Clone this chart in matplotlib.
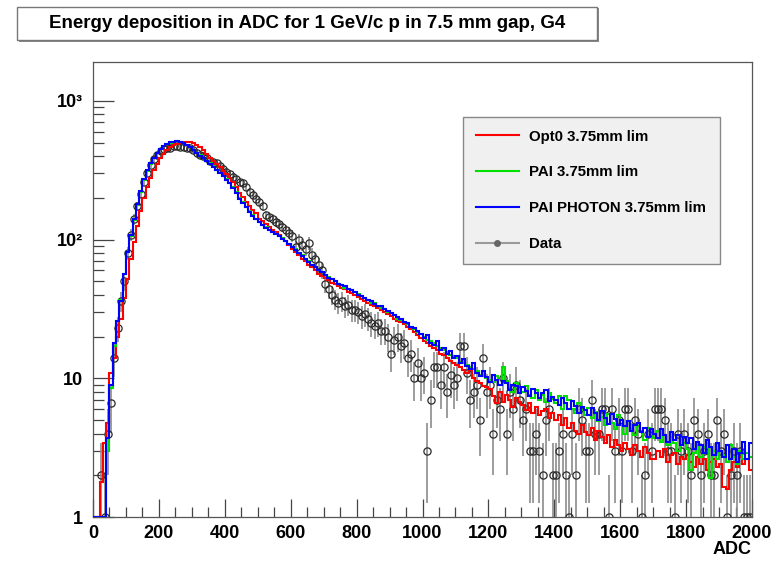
import numpy as np
import matplotlib.pyplot as plt
from matplotlib.patches import Rectangle
from matplotlib.lines import Line2D
from matplotlib.ticker import FixedLocator, FixedFormatter, MultipleLocator, NullFormatter

plt.rcParams['font.family'] = ['Liberation Sans', 'DejaVu Sans']
plt.rcParams['font.weight'] = 'bold'

# 10 ADC bins, 0..2000
edges = np.arange(0, 2001, 10)

opt0 = [0, 0, 1.8, 3.4, 4.8, 11, 14, 20, 27, 38,
        52, 72, 96, 125, 160, 200, 240, 280, 318, 352,
        385, 415, 440, 462, 478, 490, 498, 503, 505, 502,
        495, 480, 462, 440, 418, 390, 368, 350, 332, 315,
        297, 280, 260, 238, 218, 202, 188, 175, 164, 155,
        142, 136, 129, 124, 118, 114, 108, 102, 97, 92,
        86, 81, 77, 73, 70, 66, 63, 60, 57, 55,
        53, 51, 49, 47.5, 46, 45, 44, 42, 41, 40,
        38.5, 37.5, 36, 35, 34, 33, 32, 31, 30, 29,
        28, 27, 26, 25.5, 24.5, 23.5, 22.5, 21.5, 20.5, 19.5,
        18.5, 18, 17, 16.5, 16, 15, 14.8, 14, 13.4, 13,
        12.4, 12, 11.4, 11, 11.5, 10, 9.6, 9.2, 8.8, 8.6,
        8.4, 7.4, 6.6, 8.0, 6.8, 7.6, 7.0, 6.2, 7.2, 6.8,
        6.4, 5.9, 6.6, 5.6, 6.2, 5.4, 5.8, 6.0, 5.2, 5.6,
        5.0, 5.4, 4.6, 5.2, 4.4, 4.8, 4.2, 4.0, 4.6, 4.1,
        3.9, 4.4, 3.6, 4.2, 3.8, 3.4, 3.9, 3.2, 3.6, 3.3,
        3.0, 3.4, 3.1, 2.8, 3.3, 3.0, 2.7, 3.2, 2.9, 2.6,
        2.6, 3.0, 2.7, 3.1, 2.5, 2.8, 2.9, 2.4, 2.7, 2.6,
        2.8, 2.5, 2.3, 2.7, 2.4, 2.6, 2.2, 2.5, 2.6, 2.3,
        2.4, 1.65, 1.6, 2.2, 2.5, 2.3, 2.7, 2.4, 2.6, 2.2]

pai = [0, 0, 0, 0, 3, 8.5, 17, 26, 37, 57,
       82, 107, 139, 178, 222, 270, 315, 352, 390, 420,
       448, 470, 488, 500, 508, 512, 506, 497, 484, 465,
       446, 425, 405, 388, 372, 355, 337, 320, 304, 290,
       273, 258, 238, 219, 201, 186, 172, 161, 151, 142,
       134, 128, 123, 118, 113, 110, 106, 102, 97, 93,
       88, 85, 80, 77, 72, 70, 66, 63, 60, 58,
       56, 54, 52, 50, 48, 47, 45, 44, 43, 42,
       40.5, 39, 38, 36.5, 35, 35, 33.5, 32, 31.5, 30,
       29.5, 28.5, 27, 26.5, 25.5, 24.5, 23.5, 22.5, 21.5, 21,
       19.8, 19, 18.6, 18, 17, 16.6, 16, 15.4, 14.8, 14.5,
       14, 13.2, 13, 12.4, 12, 11.6, 11.2, 10.6, 10.4, 10,
       9.8, 9.4, 10.4, 9.0, 12.0, 9.5, 8.6, 8.0, 9.2, 8.4,
       8.0, 8.8, 7.6, 7.2, 8.3, 7.0, 7.6, 6.8, 7.9, 7.1,
       6.6, 7.5, 6.0, 7.4, 7.0, 6.0, 5.6, 6.6, 5.9, 5.4,
       6.1, 5.2, 5.7, 4.9, 5.3, 4.6, 5.5, 4.8, 4.3, 5.4,
       4.6, 4.0, 4.9, 4.3, 3.9, 4.5, 4.2, 3.6, 4.4, 4.0,
       3.7, 4.2, 3.5, 3.9, 3.3, 3.8, 3.4, 3.0, 3.6, 3.4,
       3.1, 2.2, 2.9, 3.3, 2.7, 3.2, 3.4, 1.9, 3.0, 2.6,
       3.0, 2.8, 2.5, 3.3, 2.7, 2.4, 3.0, 2.6, 2.9, 2.7]

pai_photon = [0, 0, 0, 0, 3.7, 9, 18, 26, 36, 57,
              82, 108, 140, 180, 225, 275, 318, 355, 390, 420,
              450, 472, 490, 502, 510, 515, 506, 496, 482, 462,
              442, 421, 402, 386, 370, 352, 333, 318, 301, 287,
              270, 256, 236, 216, 198, 184, 171, 159, 149, 141,
              134, 128, 122, 118, 113, 110, 106, 101, 97, 93,
              89, 84, 80, 76, 73, 69, 66, 63, 60, 58,
              56, 53, 52, 50, 48, 47, 46, 44, 43, 42,
              40, 39.5, 38, 36.5, 36, 34.5, 33.5, 33, 31.5, 30.5,
              29.5, 28.5, 27.5, 27, 25.5, 25, 23.5, 23, 22, 21,
              19.5, 20.5, 18, 17.5, 18.5, 16, 16.5, 15, 15.8, 14,
              14.6, 13, 13.8, 12.2, 11.6, 12.8, 11, 10.4, 11.2, 10.2,
              9.4, 10.6, 9.8, 8.9, 9.6, 9.2, 8.3, 9.0, 8.8, 7.9,
              8.6, 8.1, 7.4, 8.4, 7.8, 7.2, 7.9, 8.2, 6.9, 7.3,
              7.0, 6.4, 7.2, 6.6, 6.0, 6.9, 6.3, 5.6, 6.2, 5.9,
              5.4, 6.1, 5.6, 5.0, 5.8, 5.2, 4.7, 5.5, 5.1, 4.6,
              5.0, 4.5, 4.9, 4.2, 4.6, 4.8, 4.1, 4.4, 3.8, 4.3,
              4.0, 3.7, 4.3, 3.9, 3.5, 4.1, 3.6, 3.9, 3.3, 3.8,
              3.4, 3.7, 3.1, 3.5, 3.3, 2.9, 3.6, 3.2, 2.8, 3.4,
              3.0, 2.7, 3.3, 2.6, 3.1, 2.5, 2.9, 3.5, 2.6, 3.4]

data = [0, 0, 2, 1, 4, 6.6, 14, 23, 36, 50,
        80, 108, 140, 175, 215, 260, 300, 345, 380, 410,
        435, 450, 460, 458, 470, 475, 468, 466, 460, 455,
        440, 425, 406, 398, 385, 372, 365, 355, 340, 325,
        310, 298, 285, 272, 262, 255, 238, 221, 210, 198,
        188, 175, 150, 146, 140, 134, 130, 124, 117, 112,
        107, 89, 100, 92, 86, 94, 78, 72, 66, 60,
        48, 44, 40, 37, 35, 36, 33, 34, 31, 31,
        30, 28, 29, 27, 25, 24, 25, 22, 22, 20,
        15, 19, 20, 17, 18, 14, 15, 10, 13, 10,
        11, 3, 7, 12, 12, 9, 12, 8, 10.5, 9,
        10, 17, 17, 11, 7, 8, 9, 5, 14, 8,
        9, 4, 7, 6, 10, 4, 8, 6, 9, 7,
        5, 6, 3, 3, 4, 3, 2, 5, 6, 2,
        2, 3, 4, 2, 1, 4, 2, 6, 5, 3,
        3, 7, 4, 4, 6, 6, 1, 6, 3, 5,
        3, 6, 6, 3, 5, 4, 1, 2, 4, 3,
        6, 6, 6, 5, 3, 3, 1, 4, 3, 4,
        3, 2, 5, 4, 2, 3, 4, 2, 2, 5,
        3, 4, 1, 2, 3, 2, 3, 1, 1, 1]

W, H = 777, 561
fig = plt.figure(figsize=(W / 100, H / 100), dpi=100)
ax = fig.add_axes([93 / W, 1 - 517 / H, (752 - 93) / W, (517 - 62) / H])
ax.set_yscale('log')

d = np.array(data, dtype=float)
centers = edges[:-1] + 5
m = d > 0
ax.errorbar(centers[m], d[m], yerr=np.sqrt(d[m]), fmt='o', ms=5.2,
            mfc='none', mec='#2a2a2a', mew=0.9, ecolor='#8c8c8c',
            elinewidth=1.2, capsize=0, zorder=2)

for vals, col in [(opt0, '#ff0000'), (pai, '#00e000'), (pai_photon, '#0000ff')]:
    ax.stairs(np.maximum(np.array(vals, dtype=float), 1.0), edges,
              baseline=None, color=col, lw=1.5, zorder=3)

ax.set_xlim(0, 2000)
ax.set_ylim(1, 1910)

ax.xaxis.set_major_locator(MultipleLocator(200))
ax.xaxis.set_minor_locator(MultipleLocator(50))
ax.yaxis.set_major_locator(FixedLocator([1, 10, 100, 1000]))
ax.yaxis.set_major_formatter(FixedFormatter(['1', '10', '10\u00b2', '10\u00b3']))
minors = [k * 10 ** e for e in range(0, 4) for k in range(2, 10) if k * 10 ** e < 1910]
ax.yaxis.set_minor_locator(FixedLocator(minors))
ax.yaxis.set_minor_formatter(NullFormatter())

ax.tick_params(axis='both', which='both', direction='in', top=False, right=False,
               colors='#444444', labelcolor='black', labelsize=13)
ax.tick_params(axis='x', which='major', length=13, width=0.9, pad=6)
ax.tick_params(axis='x', which='minor', length=7, width=0.9)
ax.tick_params(axis='y', which='major', length=15, width=0.9, pad=7)
ax.tick_params(axis='y', which='minor', length=8, width=0.9)
for s in ax.spines.values():
    s.set_color('#555555')
    s.set_linewidth(0.9)

fig.text(752 / W, 1 - 549 / H, 'ADC', ha='right', va='center', fontsize=13, fontweight='bold')

# title box with shadow
fig.patches.append(Rectangle((18.5 / W, 1 - 41.5 / H), 580 / W, 33 / H, transform=fig.transFigure,
                             facecolor='#8a8a8a', edgecolor='none', zorder=0))
fig.patches.append(Rectangle((17 / W, 1 - 40 / H), 580 / W, 33 / H, transform=fig.transFigure,
                             facecolor='white', edgecolor='#777777', lw=1, zorder=1))
fig.text(307 / W, 1 - 23.5 / H, 'Energy deposition in ADC for 1 GeV/c p in 7.5 mm gap, G4',
         ha='center', va='center', fontsize=13.5, fontweight='bold')

handles = [Line2D([], [], color='#ff0000', lw=1.5),
           Line2D([], [], color='#00e000', lw=1.5),
           Line2D([], [], color='#0000ff', lw=1.5),
           Line2D([], [], color='#9a9a9a', lw=1.5, marker='o', ms=4, mfc='#666666', mec='#666666')]
labels = ['Opt0 3.75mm lim', 'PAI 3.75mm lim', 'PAI PHOTON 3.75mm lim', 'Data']
leg = ax.legend(handles, labels, loc='upper left', mode='expand',
                bbox_to_anchor=(463 / W, 1 - 259 / H, 257 / W, 142 / H),
                bbox_transform=fig.transFigure, fancybox=False, framealpha=1,
                facecolor='#f0f0f0', edgecolor='#888888', fontsize=10.8,
                handlelength=2.9, handletextpad=0.65, labelspacing=1.45, borderpad=0.85,
                borderaxespad=0)
leg.get_frame().set_linewidth(1.0)
leg.set_zorder(5)

fig.savefig('out.png', dpi=100)
